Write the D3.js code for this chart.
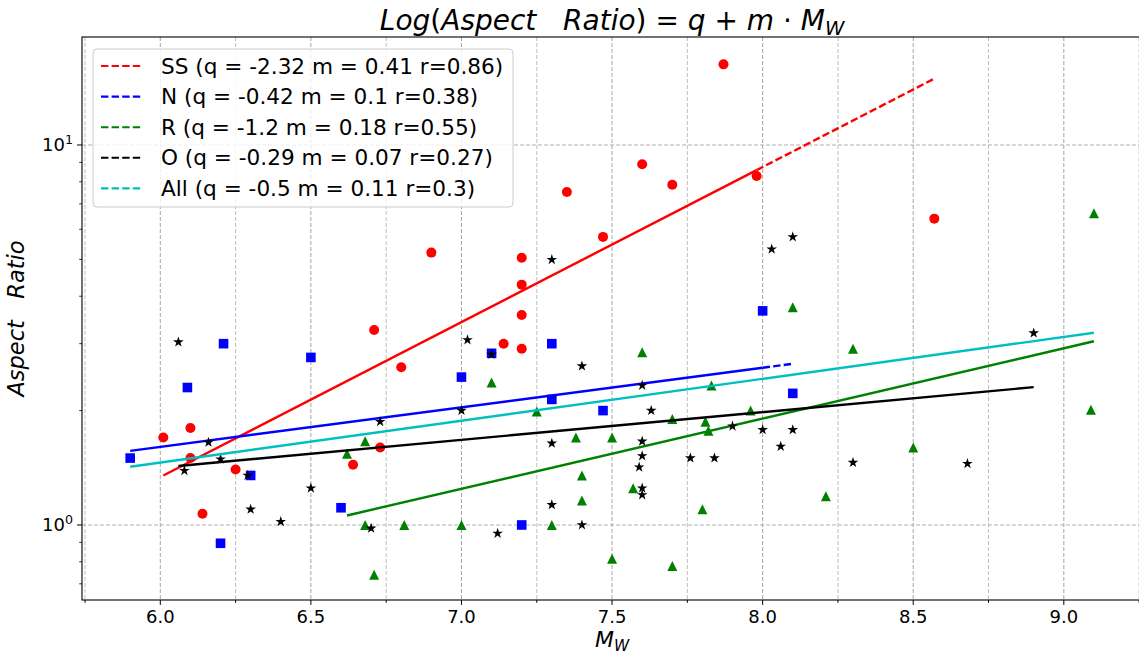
<!DOCTYPE html>
<html>
<head>
<meta charset="utf-8">
<script src="https://cdn.jsdelivr.net/npm/d3@7"></script>
<style>
  body { margin: 0; background: #fff; }
  svg { display: block; }
  text { font-family: "DejaVu Sans", sans-serif; fill: #000; }
</style>
</head>
<body>
<svg id="chart" width="1139" height="659"></svg>
<script>
// ---- Data: moment magnitude (Mw) and rupture aspect ratio per fault type ----
const ssMw = [6.01, 6.10, 6.10, 6.14, 6.25, 6.64, 6.71, 6.73, 6.80, 6.90, 7.14, 7.20, 7.20, 7.20, 7.20, 7.35, 7.47, 7.60, 7.70, 7.87, 7.98, 8.57];
const ssAR = [1.70, 1.80, 1.50, 1.07, 1.40, 1.44, 3.26, 1.60, 2.60, 5.21, 3.00, 5.05, 4.29, 3.57, 2.91, 7.52, 5.73, 8.90, 7.86, 16.3, 8.29, 6.40];

const nMw = [5.90, 6.09, 6.21, 6.20, 6.30, 6.50, 6.60, 7.00, 7.10, 7.20, 7.30, 7.30, 7.47, 8.00, 8.10];
const nAR = [1.50, 2.30, 3.00, 0.895, 1.35, 2.76, 1.11, 2.45, 2.83, 1.00, 3.00, 2.14, 2.00, 3.66, 2.22];

const rMw = [6.62, 6.68, 6.68, 6.71, 6.81, 7.00, 7.10, 7.25, 7.30, 7.38, 7.40, 7.40, 7.50, 7.50, 7.57, 7.60, 7.70, 7.70, 7.80, 7.81, 7.82, 7.83, 7.96, 8.10, 8.21, 8.30, 8.50, 9.09, 9.10];
const rAR = [1.54, 1.66, 1.00, 0.74, 1.00, 1.00, 2.37, 1.99, 1.00, 1.70, 1.35, 1.16, 1.70, 0.815, 1.25, 2.85, 1.90, 0.78, 1.10, 1.87, 1.77, 2.33, 2.00, 3.74, 1.19, 2.91, 1.60, 2.01, 6.61];

const oMw = [6.06, 6.08, 6.16, 6.20, 6.29, 6.30, 6.40, 6.50, 6.70, 6.73, 7.00, 7.02, 7.10, 7.12, 7.30, 7.30, 7.30, 7.40, 7.40, 7.60, 7.60, 7.60, 7.59, 7.60, 7.60, 7.63, 7.76, 7.84, 7.90, 8.00, 8.06, 8.10, 8.03, 8.10, 8.30, 8.68, 8.90];
const oAR = [3.03, 1.39, 1.65, 1.49, 1.35, 1.10, 1.02, 1.25, 0.98, 1.87, 2.00, 3.07, 2.81, 0.95, 4.99, 1.64, 1.13, 2.62, 1.00, 2.33, 1.66, 1.52, 1.42, 1.25, 1.20, 2.00, 1.50, 1.50, 1.82, 1.78, 1.61, 1.78, 5.32, 5.73, 1.46, 1.45, 3.20];

// Regression of log10(aspect ratio) on Mw: log10(AR) = q + m * Mw
const fitNames = ["SS", "N", "R", "O", "All"];
const fitQ = [-2.322, -0.4197, -1.199, -0.287, -0.497];
const fitM = [0.408, 0.1042, 0.1849, 0.073, 0.1102];
const fitR = [0.86, 0.38, 0.55, 0.27, 0.3];

const xMajorTicks = [6.0, 6.5, 7.0, 7.5, 8.0, 8.5, 9.0];
const yMajorTicks = [1, 10];

// ---- Rendering ----
const svg = d3.select("#chart");
const pL = 82, pT = 37, pB = 600;

const x = d3.scaleLinear().domain([5.74, 9.26]).range([pL, pL + 3.52 * 301.17]);
const y = d3.scaleLog().domain([0.6347, 19.24]).range([pB, pT]);
const pR = x.range()[1];

const colors = { SS: "#ff0000", N: "#0000ff", R: "#008000", O: "#000000", All: "#00bfbf" };

svg.append("defs").append("clipPath").attr("id", "plotArea")
  .append("rect").attr("x", pL).attr("y", pT).attr("width", pR - pL).attr("height", pB - pT);

// grid: vertical lines at every 0.25 Mw, horizontal lines at decades
const gridG = svg.append("g").attr("clip-path", "url(#plotArea)");
const xGridVals = d3.range(23, 38).map(i => i * 0.25);
gridG.selectAll("line.vx").data(xGridVals).join("line")
  .attr("x1", d => x(d)).attr("x2", d => x(d))
  .attr("y1", pT).attr("y2", pB)
  .attr("stroke", d => (Math.round(d * 4) % 2 === 0) ? "#9a9a9a" : "#b8b8b8")
  .attr("stroke-width", 0.9)
  .attr("stroke-dasharray", "4,2");
gridG.selectAll("line.hy").data(yMajorTicks).join("line")
  .attr("x1", pL).attr("x2", pR)
  .attr("y1", d => y(d)).attr("y2", d => y(d))
  .attr("stroke", "#a8a8a8").attr("stroke-width", 0.9)
  .attr("stroke-dasharray", "4,2");

// marker shapes
const shapes = {
  circle: () => { const p = d3.path(); p.arc(0, 0, 5, 0, 2 * Math.PI); return p.toString(); },
  square: () => { const s = 4.8; return `M${-s},${-s}H${s}V${s}H${-s}Z`; },
  triangle: () => { const s = 5; return `M0,${-s}L${s},${s}L${-s},${s}Z`; },
  star: () => {
    const R = 5.6, r = R * 0.381966, p = d3.path();
    for (let i = 0; i < 10; i++) {
      const a = -Math.PI / 2 + i * Math.PI / 5, rr = i % 2 ? r : R;
      const px = rr * Math.cos(a), py = rr * Math.sin(a);
      i ? p.lineTo(px, py) : p.moveTo(px, py);
    }
    p.closePath();
    return p.toString();
  }
};

const groups = [
  { name: "SS", mw: ssMw, ar: ssAR, shape: "circle" },
  { name: "N", mw: nMw, ar: nAR, shape: "square" },
  { name: "R", mw: rMw, ar: rAR, shape: "triangle" },
  { name: "O", mw: oMw, ar: oAR, shape: "star" }
];
// fit lines that show a visible dash pattern over their last stretch
const dashedTail = { SS: true, N: true };

const dataG = svg.append("g").attr("clip-path", "url(#plotArea)");

function drawFit(i, xs) {
  const name = fitNames[i];
  const f = v => Math.pow(10, fitQ[i] + fitM[i] * v);
  const sorted = Array.from(new Set(xs)).sort((a, b) => a - b);
  const x0 = sorted[0], x1 = sorted[sorted.length - 1];
  const xm = dashedTail[name] ? sorted[sorted.length - 2] : x1;
  const seg = (a, b) => dataG.append("line")
    .attr("x1", x(a)).attr("y1", y(f(a)))
    .attr("x2", x(b)).attr("y2", y(f(b)))
    .attr("stroke", colors[name]).attr("stroke-width", 2.4)
    .attr("stroke-linecap", "butt");
  seg(x0, xm);
  if (xm < x1) seg(xm, x1).attr("stroke-dasharray", "7.4,3.2");
}

groups.forEach((g, gi) => {
  const pts = g.mw.map((m, k) => ({ m, a: g.ar[k] }));
  dataG.append("g").selectAll("path").data(pts).join("path")
    .attr("d", shapes[g.shape]())
    .attr("transform", d => `translate(${x(d.m)},${y(d.a)})`)
    .attr("fill", colors[g.name]);
  drawFit(gi, g.mw);
});
drawFit(4, [].concat(ssMw, nMw, rMw, oMw));

// spines (the right edge falls just outside the canvas)
svg.append("rect")
  .attr("x", pL).attr("y", pT).attr("width", pR - pL).attr("height", pB - pT)
  .attr("fill", "none").attr("stroke", "#000").attr("stroke-width", 1.1);

// x ticks
const axG = svg.append("g");
axG.selectAll("line.xt").data(xGridVals).join("line")
  .attr("x1", d => x(d)).attr("x2", d => x(d))
  .attr("y1", pB).attr("y2", d => pB + ((Math.round(d * 4) % 2 === 0) ? 4.9 : 2.8))
  .attr("stroke", "#000").attr("stroke-width", 1);
axG.selectAll("text.xl").data(xMajorTicks).join("text")
  .attr("x", d => x(d)).attr("y", 623)
  .attr("text-anchor", "middle").attr("font-size", 18)
  .text(d => d3.format(".1f")(d));

// y ticks (log): major at decades, minor at 2..9 multiples
const yMinor = [];
[0.1, 1, 10].forEach(dec => { for (let k = 2; k <= 9; k++) yMinor.push(dec * k); });
const yDom = y.domain();
axG.selectAll("line.ym").data(yMinor.filter(v => v > yDom[0] && v < yDom[1])).join("line")
  .attr("x1", pL - 2.8).attr("x2", pL)
  .attr("y1", d => y(d)).attr("y2", d => y(d))
  .attr("stroke", "#000").attr("stroke-width", 0.8);
axG.selectAll("line.yM").data(yMajorTicks).join("line")
  .attr("x1", pL - 4.9).attr("x2", pL)
  .attr("y1", d => y(d)).attr("y2", d => y(d))
  .attr("stroke", "#000").attr("stroke-width", 1);
const yl = axG.selectAll("text.yl").data(yMajorTicks).join("text")
  .attr("x", pL - 9).attr("y", d => y(d) + 6.5)
  .attr("text-anchor", "end").attr("font-size", 18);
yl.append("tspan").text("10");
yl.append("tspan").attr("font-size", 12.6).attr("dy", -7).text(d => String(Math.round(Math.log10(d))));

// axis labels
svg.append("text")
  .attr("transform", `translate(24,${(pT + pB) / 2}) rotate(-90)`)
  .attr("text-anchor", "middle").attr("font-size", 22.5).attr("font-style", "italic")
  .style("white-space", "pre")
  .text("Aspect   Ratio");

const xLab = svg.append("text")
  .attr("x", (pL + pR) / 2).attr("y", 647)
  .attr("text-anchor", "middle").attr("font-size", 22).attr("font-style", "italic");
xLab.append("tspan").text("M");
xLab.append("tspan").attr("font-size", 15.4).attr("dy", 4).text("W");

// title
const title = svg.append("text")
  .attr("x", (pL + pR) / 2).attr("y", 30)
  .attr("text-anchor", "middle").attr("font-size", 28)
  .style("white-space", "pre");
title.append("tspan").attr("font-style", "italic").text("Log");
title.append("tspan").text("(");
title.append("tspan").attr("font-style", "italic").text("Aspect   Ratio");
title.append("tspan").text(") = ");
title.append("tspan").attr("font-style", "italic").text("q");
title.append("tspan").text(" + ");
title.append("tspan").attr("font-style", "italic").text("m");
title.append("tspan").text(" \u00b7 ");
title.append("tspan").attr("font-style", "italic").text("M");
title.append("tspan").attr("font-style", "italic").attr("font-size", 19.6).attr("dy", 5).text("W");

// legend
const fmt = v => String(+v.toFixed(2));
const legG = svg.append("g");
legG.append("rect")
  .attr("x", 93).attr("y", 49).attr("width", 420).attr("height", 158).attr("rx", 4)
  .attr("fill", "#fff").attr("fill-opacity", 0.8)
  .attr("stroke", "#cccccc").attr("stroke-width", 1);
const rowY = i => 66 + i * 30.6;
fitNames.forEach((name, i) => {
  legG.append("line")
    .attr("x1", 101).attr("x2", 141)
    .attr("y1", rowY(i)).attr("y2", rowY(i))
    .attr("stroke", colors[name]).attr("stroke-width", 2.1)
    .attr("stroke-dasharray", "7.4,3.2");
  legG.append("text")
    .attr("x", 161).attr("y", rowY(i) + 7.6)
    .attr("font-size", 21.6)
    .text(`${name} (q = ${fmt(fitQ[i])} m = ${fmt(fitM[i])} r=${fmt(fitR[i])})`);
});
</script>
</body>
</html>
